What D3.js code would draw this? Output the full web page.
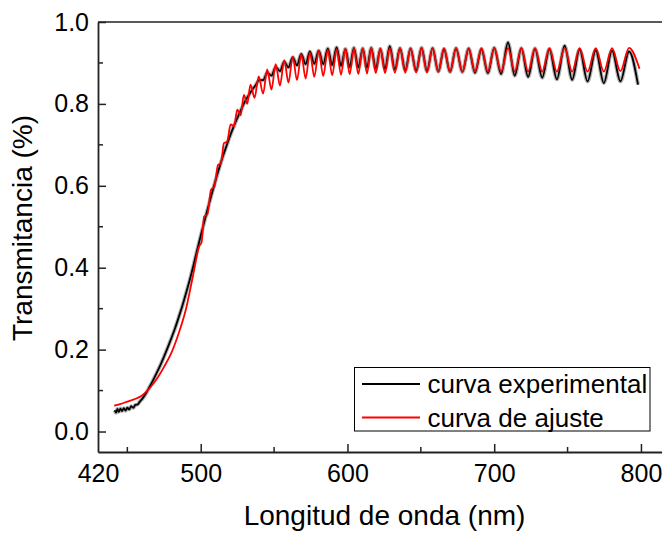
<!DOCTYPE html>
<html>
<head>
<meta charset="utf-8">
<script src="https://cdn.jsdelivr.net/npm/d3@7"></script>
<style>
  html, body { margin: 0; padding: 0; background: #fff; }
  svg { display: block; font-family: "Liberation Sans", Arial, sans-serif; }
</style>
</head>
<body>
<svg id="chart" width="662" height="533"></svg>
<script>
// ---- Data ----
const xTickValues = [430, 500, 600, 700, 800];
const xTickLabels = ["420", "500", "600", "700", "800"];
const xMinorTicks = [450, 550, 650, 750];
const yTickValues = [0.0, 0.2, 0.4, 0.6, 0.8, 1.0];
const yMinorTicks = [0.1, 0.3, 0.5, 0.7, 0.9];

const seriesNames = ["curva experimental", "curva de ajuste"];

const expWavelength = [441.4, 442.3, 443.2, 444.2, 445.3, 446.4, 447.6, 448.8, 450.0, 451.3, 452.6, 454.0, 455.5, 457.0, 458.5, 460.0, 462.5, 465.0, 467.5, 470.0, 472.5, 475.0, 477.5, 480.0, 482.5, 485.0, 487.5, 490.0, 492.5, 495.0, 497.5, 500.0, 502.5, 505.0, 507.5, 510.0, 512.5, 515.0, 517.5, 520.0, 522.5, 525.0, 527.5, 530.0, 532.5, 535.0, 537.5, 539.8, 542.5, 545.3, 548.2, 551.1, 554.0, 556.9, 559.8, 562.7, 565.6, 568.5, 571.5, 574.4, 577.4, 580.4, 583.5, 586.6, 589.6, 592.6, 595.6, 598.6, 601.5, 604.4, 607.4, 610.4, 613.3, 616.2, 619.3, 622.4, 625.6, 628.8, 632.3, 635.8, 639.4, 643.0, 646.8, 650.5, 654.2, 658.0, 661.9, 665.8, 669.9, 674.0, 678.3, 682.6, 686.9, 691.3, 695.7, 700.0, 704.7, 709.4, 714.0, 718.5, 723.1, 727.8, 732.7, 737.6, 742.7, 748.0, 753.1, 758.2, 763.6, 769.2, 774.7, 780.3, 786.0, 791.9, 798.0];
const expTransmittance = [0.052, 0.046, 0.055, 0.048, 0.056, 0.050, 0.057, 0.051, 0.058, 0.054, 0.062, 0.058, 0.065, 0.066, 0.073, 0.079, 0.092, 0.108, 0.125, 0.143, 0.162, 0.183, 0.205, 0.228, 0.252, 0.279, 0.307, 0.338, 0.370, 0.405, 0.442, 0.478, 0.513, 0.547, 0.580, 0.612, 0.642, 0.671, 0.697, 0.722, 0.745, 0.766, 0.786, 0.805, 0.820, 0.834, 0.846, 0.858, 0.858, 0.876, 0.869, 0.890, 0.880, 0.903, 0.889, 0.914, 0.894, 0.922, 0.897, 0.928, 0.898, 0.930, 0.897, 0.935, 0.895, 0.938, 0.893, 0.934, 0.890, 0.937, 0.889, 0.935, 0.888, 0.937, 0.886, 0.934, 0.885, 0.941, 0.884, 0.936, 0.882, 0.935, 0.881, 0.937, 0.880, 0.936, 0.879, 0.934, 0.878, 0.936, 0.878, 0.935, 0.876, 0.934, 0.875, 0.937, 0.873, 0.950, 0.869, 0.936, 0.866, 0.935, 0.864, 0.934, 0.860, 0.942, 0.859, 0.933, 0.855, 0.931, 0.851, 0.930, 0.855, 0.928, 0.847];

const fitWavelength = [441, 445, 450, 455, 460, 465, 470, 475, 480, 485, 490, 495, 498.9, 500.6, 502.3, 504.5, 507.0, 509.3, 511.8, 513.8, 515.8, 518.0, 520.4, 522.7, 524.9, 527.2, 529.4, 531.7, 533.9, 536.7, 539.5, 542.5, 545.3, 548.2, 551.1, 554.0, 556.9, 559.8, 562.7, 565.6, 568.5, 571.5, 574.4, 577.4, 580.4, 583.5, 586.6, 589.6, 592.6, 595.6, 598.6, 601.5, 604.4, 607.4, 610.4, 613.3, 616.2, 619.3, 622.4, 625.6, 628.8, 632.3, 635.8, 639.4, 643.0, 646.8, 650.5, 654.2, 658.0, 661.9, 665.8, 669.9, 674.0, 678.3, 682.6, 686.9, 691.3, 695.7, 700.0, 704.7, 709.4, 714.0, 718.5, 723.1, 727.8, 732.7, 737.6, 742.7, 748.0, 753.1, 758.2, 763.6, 769.2, 774.7, 780.3, 786.0, 791.9, 799.0];
const fitTransmittance = [0.0635, 0.067, 0.073, 0.079, 0.088, 0.105, 0.128, 0.158, 0.192, 0.240, 0.300, 0.385, 0.452, 0.462, 0.525, 0.530, 0.590, 0.598, 0.651, 0.655, 0.704, 0.708, 0.750, 0.745, 0.786, 0.772, 0.822, 0.800, 0.847, 0.815, 0.867, 0.825, 0.884, 0.835, 0.897, 0.845, 0.907, 0.852, 0.915, 0.858, 0.921, 0.862, 0.926, 0.866, 0.930, 0.868, 0.932, 0.870, 0.934, 0.871, 0.935, 0.872, 0.935, 0.873, 0.936, 0.874, 0.936, 0.875, 0.936, 0.875, 0.936, 0.876, 0.936, 0.876, 0.936, 0.877, 0.936, 0.877, 0.936, 0.878, 0.936, 0.878, 0.936, 0.878, 0.936, 0.879, 0.936, 0.879, 0.936, 0.879, 0.936, 0.879, 0.936, 0.879, 0.936, 0.879, 0.936, 0.879, 0.936, 0.879, 0.936, 0.879, 0.936, 0.879, 0.936, 0.880, 0.937, 0.886];

// ---- Layout ----
const svg = d3.select("#chart");
const plotLeft = 98, plotRight = 670.3, plotTop = 22, plotBottom = 452;

const x = d3.scaleLinear().domain([430, 820]).range([plotLeft, plotRight]);
const y = d3.scaleLinear().domain([-0.05, 1.0]).range([plotBottom, plotTop]);

const expData = expWavelength.map((w, i) => [w, expTransmittance[i]]);
const fitData = fitWavelength.map((w, i) => [w, fitTransmittance[i]]);

svg.append("defs").append("clipPath").attr("id", "clip")
  .append("rect").attr("x", plotLeft).attr("y", plotTop)
  .attr("width", plotRight - plotLeft).attr("height", plotBottom - plotTop);

const line = d3.line().x(d => x(d[0])).y(d => y(d[1])).curve(d3.curveMonotoneX);

const plot = svg.append("g").attr("clip-path", "url(#clip)");
plot.append("path").datum(expData).attr("d", line)
  .attr("fill", "none").attr("stroke", "#000").attr("stroke-opacity", 0.3).attr("stroke-width", 4).attr("stroke-linejoin", "round");
plot.append("path").datum(expData).attr("d", line)
  .attr("fill", "none").attr("stroke", "#000").attr("stroke-width", 1.8).attr("stroke-linejoin", "round");
plot.append("path").datum(fitData).attr("d", line)
  .attr("fill", "none").attr("stroke", "#ff0000").attr("stroke-width", 1.8).attr("stroke-linejoin", "round");

// ---- Frame ----
const frameColor = "#222";
svg.append("line").attr("x1", plotLeft).attr("x2", plotRight).attr("y1", plotTop).attr("y2", plotTop)
  .attr("stroke", frameColor).attr("stroke-width", 1.6);
svg.append("line").attr("x1", plotRight).attr("x2", plotRight).attr("y1", plotTop).attr("y2", plotBottom)
  .attr("stroke", frameColor).attr("stroke-width", 1.6);

// ---- X axis (ticks inward) ----
const xAxis = d3.axisBottom(x)
  .tickValues(xTickValues)
  .tickSizeInner(-8).tickSizeOuter(0)
  .tickPadding(20)
  .tickFormat((d, i) => xTickLabels[i]);
const gx = svg.append("g").attr("transform", `translate(0,${plotBottom})`).call(xAxis);
gx.select(".domain").attr("stroke", frameColor).attr("stroke-width", 1.8);
gx.selectAll(".tick line").attr("stroke", frameColor).attr("stroke-width", 1.5)
  .attr("display", d => d === xTickValues[0] ? "none" : null);
gx.selectAll(".tick text").attr("font-size", 25).attr("fill", "#000")
  .attr("font-family", "'Liberation Sans', Arial, sans-serif").attr("dy", null).attr("y", 30);
svg.append("g").selectAll("line").data(xMinorTicks).join("line")
  .attr("x1", d => x(d)).attr("x2", d => x(d)).attr("y1", plotBottom).attr("y2", plotBottom - 5)
  .attr("stroke", frameColor).attr("stroke-width", 1.5);

// ---- Y axis (ticks inward) ----
const yAxis = d3.axisLeft(y)
  .tickValues(yTickValues)
  .tickSizeInner(-8).tickSizeOuter(0)
  .tickPadding(18)
  .tickFormat(d3.format(".1f"));
const gy = svg.append("g").attr("transform", `translate(${plotLeft},0)`).call(yAxis);
gy.select(".domain").attr("stroke", frameColor).attr("stroke-width", 1.8);
gy.selectAll(".tick line").attr("stroke", frameColor).attr("stroke-width", 1.5);
gy.selectAll(".tick text").attr("font-size", 25).attr("fill", "#000")
  .attr("font-family", "'Liberation Sans', Arial, sans-serif").attr("x", -9);
svg.append("g").selectAll("line").data(yMinorTicks).join("line")
  .attr("x1", plotLeft).attr("x2", plotLeft + 5).attr("y1", d => y(d)).attr("y2", d => y(d))
  .attr("stroke", frameColor).attr("stroke-width", 1.5);

// ---- Axis titles ----
svg.append("text").attr("x", 384.5).attr("y", 525).attr("text-anchor", "middle")
  .attr("font-size", 28).attr("fill", "#000").text("Longitud de onda (nm)");
svg.append("text").attr("transform", "translate(32,228) rotate(-90)").attr("text-anchor", "middle")
  .attr("font-size", 28).attr("fill", "#000").text("Transmitancia (%)");

// ---- Legend ----
const legend = svg.append("g");
legend.append("rect").attr("x", 354.5).attr("y", 367.5).attr("width", 295.5).attr("height", 63.5)
  .attr("fill", "#fff").attr("stroke", "#000").attr("stroke-width", 1);
const legendColors = ["#000", "#ff0000"];
const rowY = [384, 417.5];
seriesNames.forEach((name, i) => {
  legend.append("line").attr("x1", 362).attr("x2", 420).attr("y1", rowY[i]).attr("y2", rowY[i])
    .attr("stroke", legendColors[i]).attr("stroke-width", 1.8);
  legend.append("text").attr("x", 427.5).attr("y", rowY[i] + 9.2)
    .attr("font-size", 26).attr("fill", "#000").text(name);
});
</script>
</body>
</html>
